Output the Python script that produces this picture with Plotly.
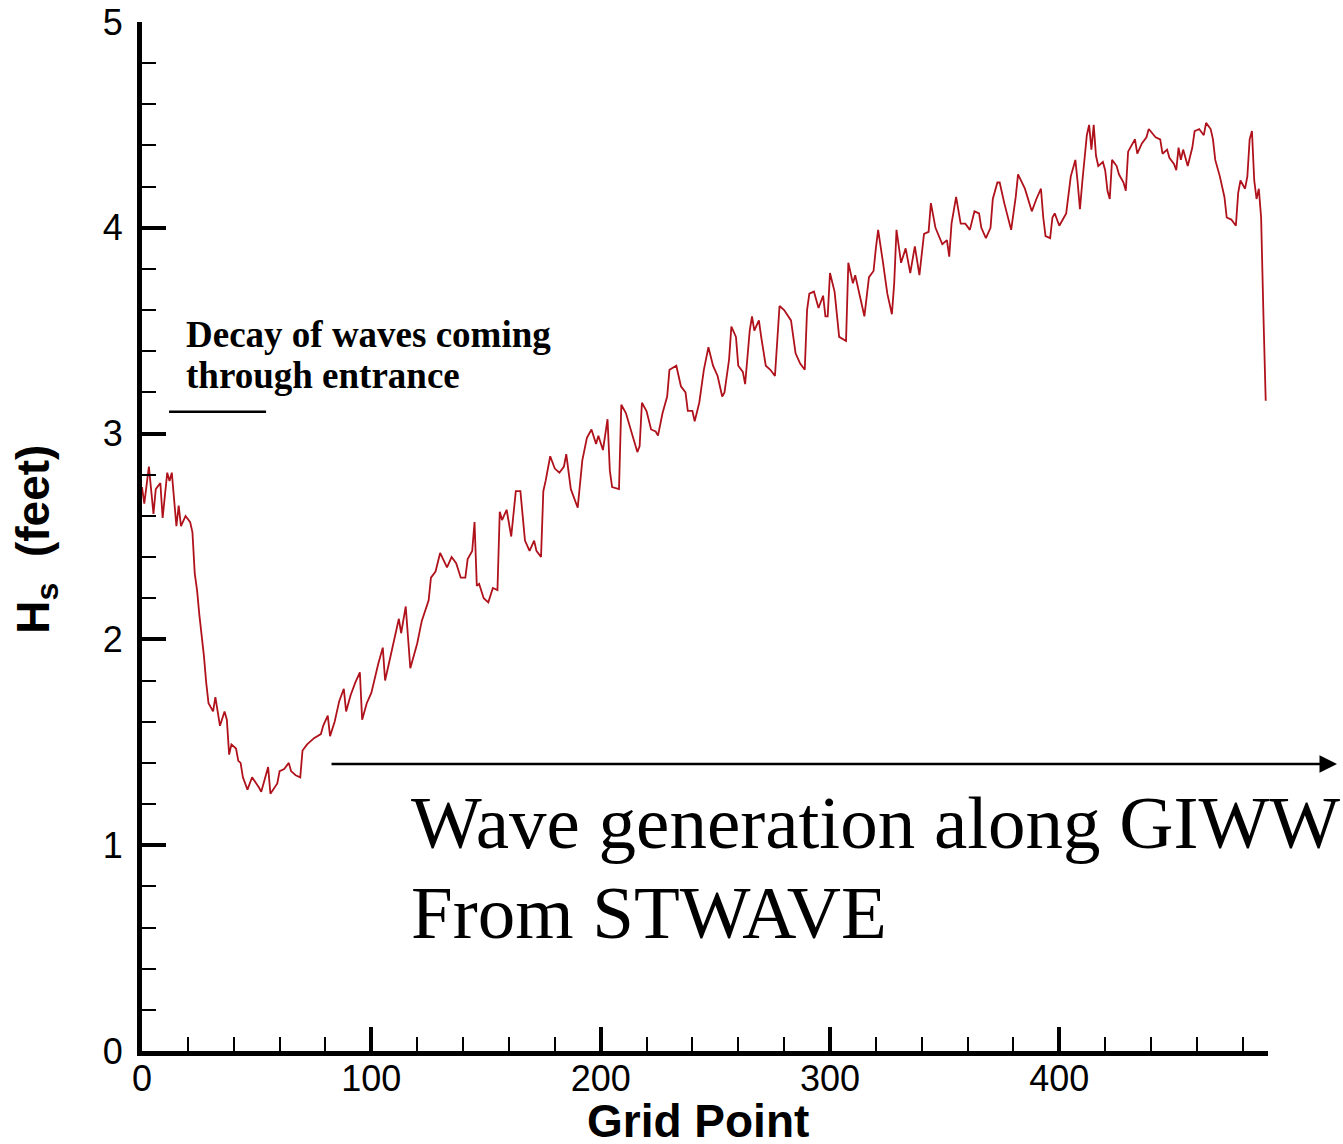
import plotly.graph_objects as go

# Significant wave height along the GIWW grid transect
grid_point = [
    0, 1, 3, 5, 6, 8, 9, 11, 12, 13, 15, 16, 17, 19, 21, 22, 23, 24, 25, 26,
    27, 28, 29, 31, 32, 34, 36, 37, 38, 39, 41, 42, 43, 44, 46, 48, 50, 51, 52, 54,
    55, 56, 59, 60, 62, 64, 65, 67, 69, 70, 72, 75, 78, 79, 81, 82, 84, 86, 88, 89,
    91, 93, 95, 96, 98, 100, 101, 103, 105, 106, 109, 111, 112, 113, 115, 117, 120, 122, 125, 126,
    128, 130, 133, 135, 137, 139, 141, 142, 144, 145, 146, 147, 149, 151, 153, 155, 156, 157, 159, 161,
    163, 165, 167, 169, 171, 172, 174, 175, 176, 178, 180, 182, 184, 185, 187, 190, 192, 194, 196, 198,
    199, 201, 203, 204, 205, 208, 209, 211, 213, 216, 217, 218, 220, 222, 224, 225, 227, 229, 230, 233,
    235, 237, 238, 240, 241, 243, 245, 247, 249, 251, 253, 254, 256, 257, 259, 260, 262, 263, 265, 266,
    267, 269, 270, 272, 274, 276, 278, 280, 283, 285, 287, 289, 290, 291, 293, 295, 297, 298, 299, 300,
    302, 304, 307, 308, 310, 311, 313, 315, 317, 319, 320, 321, 323, 325, 327, 328, 329, 331, 333, 335,
    337, 338, 339, 341, 343, 344, 346, 349, 351, 352, 353, 355, 357, 359, 361, 363, 365, 366, 368, 370,
    371, 373, 374, 376, 379, 381, 382, 385, 388, 390, 392, 393, 394, 396, 397, 398, 400, 402, 403, 405,
    407, 408, 409, 410, 412, 413, 414, 415, 416, 417, 419, 420, 421, 422, 423, 425, 426, 428, 429, 430,
    431, 433, 434, 436, 438, 439, 442, 444, 445, 447, 448, 450, 451, 452, 453, 454, 456, 458, 459, 461,
    463, 464, 466, 467, 468, 470, 472, 473, 475, 477, 478, 479, 481, 482, 483, 484, 485, 486, 487, 488,
    489, 490,
]
hs_feet = [
    2.74, 2.66, 2.84, 2.61, 2.73, 2.76, 2.59, 2.81, 2.77, 2.81, 2.55, 2.65, 2.55, 2.60, 2.57, 2.52, 2.32, 2.24, 2.12, 2.03,
    1.92, 1.79, 1.69, 1.65, 1.72, 1.58, 1.65, 1.61, 1.44, 1.49, 1.47, 1.41, 1.40, 1.33, 1.27, 1.33, 1.30, 1.28, 1.26, 1.34,
    1.38, 1.25, 1.30, 1.36, 1.37, 1.40, 1.36, 1.34, 1.33, 1.46, 1.49, 1.52, 1.54, 1.58, 1.63, 1.53, 1.60, 1.70, 1.76, 1.65,
    1.73, 1.79, 1.84, 1.61, 1.69, 1.74, 1.79, 1.88, 1.96, 1.80, 1.95, 2.05, 2.10, 2.03, 2.16, 1.86, 1.98, 2.09, 2.19, 2.30,
    2.33, 2.42, 2.35, 2.40, 2.37, 2.30, 2.30, 2.39, 2.43, 2.57, 2.26, 2.27, 2.20, 2.18, 2.25, 2.24, 2.62, 2.58, 2.63, 2.50,
    2.72, 2.72, 2.48, 2.43, 2.48, 2.43, 2.40, 2.72, 2.77, 2.89, 2.83, 2.81, 2.84, 2.90, 2.73, 2.64, 2.87, 2.98, 3.02, 2.95,
    2.99, 2.92, 3.07, 2.82, 2.74, 2.73, 3.14, 3.10, 3.02, 2.91, 2.94, 3.15, 3.11, 3.02, 3.01, 2.99, 3.10, 3.18, 3.31, 3.33,
    3.23, 3.20, 3.11, 3.11, 3.06, 3.15, 3.31, 3.42, 3.33, 3.28, 3.18, 3.20, 3.36, 3.52, 3.47, 3.33, 3.30, 3.24, 3.50, 3.57,
    3.50, 3.55, 3.47, 3.33, 3.31, 3.28, 3.62, 3.60, 3.55, 3.39, 3.34, 3.31, 3.60, 3.68, 3.69, 3.61, 3.67, 3.57, 3.57, 3.78,
    3.69, 3.47, 3.45, 3.83, 3.73, 3.77, 3.67, 3.57, 3.76, 3.79, 3.90, 3.99, 3.84, 3.68, 3.58, 3.73, 3.99, 3.83, 3.90, 3.78,
    3.91, 3.84, 3.77, 3.97, 3.98, 4.12, 4.00, 3.92, 3.94, 3.86, 4.02, 4.15, 4.02, 4.02, 3.99, 4.08, 4.07, 4.00, 3.95, 4.00,
    4.14, 4.22, 4.22, 4.12, 3.99, 4.15, 4.26, 4.19, 4.08, 4.14, 4.19, 4.05, 3.96, 3.95, 4.05, 4.07, 4.01, 4.05, 4.07, 4.25,
    4.33, 4.22, 4.09, 4.22, 4.45, 4.50, 4.38, 4.50, 4.35, 4.30, 4.32, 4.28, 4.18, 4.14, 4.33, 4.30, 4.26, 4.22, 4.18, 4.37,
    4.39, 4.43, 4.36, 4.41, 4.44, 4.48, 4.44, 4.43, 4.36, 4.38, 4.34, 4.31, 4.28, 4.39, 4.33, 4.38, 4.30, 4.39, 4.47, 4.48,
    4.45, 4.51, 4.48, 4.43, 4.33, 4.25, 4.15, 4.05, 4.04, 4.01, 4.17, 4.23, 4.19, 4.25, 4.43, 4.47, 4.23, 4.14, 4.19, 4.05,
    3.58, 3.16,
]

x_major_ticks = [0, 100, 200, 300, 400]
y_major_ticks = [0, 1, 2, 3, 4, 5]

SANS = "Liberation Sans, Arial, sans-serif"
SERIF = "Liberation Serif, Times New Roman, serif"

fig = go.Figure(
    go.Scatter(
        x=grid_point,
        y=hs_feet,
        mode="lines",
        line=dict(color="#b0121c", width=1.8),
        showlegend=False,
        hoverinfo="skip",
    )
)

axis_style = dict(
    showline=True,
    linecolor="black",
    linewidth=5,
    ticks="inside",
    tickcolor="black",
    tickwidth=4,
    ticklen=24,
    showgrid=False,
    zeroline=False,
    automargin=False,
    tickfont=dict(family=SANS, size=36, color="black"),
)

fig.update_xaxes(
    range=[0, 491],
    tickmode="array",
    tickvals=x_major_ticks,
    ticktext=[str(v) for v in x_major_ticks],
    ticklabelstandoff=-8,
    minor=dict(ticks="inside", ticklen=14, tickwidth=2, tickcolor="black", tick0=0, dtick=20),
    **axis_style,
)
fig.update_yaxes(
    range=[0, 5],
    tickmode="array",
    tickvals=y_major_ticks,
    ticktext=[str(v) for v in y_major_ticks],
    ticklabelstandoff=7,
    minor=dict(ticks="inside", ticklen=14, tickwidth=2, tickcolor="black", tick0=0, dtick=0.2),
    **axis_style,
)

annotations = [
    # axis titles
    dict(
        text="Grid Point",
        xref="paper", yref="paper", x=0.494, y=-0.068,
        xanchor="center", yanchor="middle", showarrow=False,
        font=dict(family=SANS, size=46, color="black", weight="bold"),
    ),
    dict(
        text="H<sub>s</sub>\u00a0\u00a0(feet)",
        xref="paper", yref="paper", x=-0.094, y=0.497,
        xanchor="center", yanchor="middle", showarrow=False, textangle=-90,
        font=dict(family=SANS, size=46, color="black", weight="bold"),
    ),
    # notes on the plot
    dict(
        text="Decay of waves coming",
        xref="x", yref="y", x=18.5, y=3.48,
        xanchor="left", yanchor="middle", showarrow=False,
        font=dict(family=SERIF, size=37, color="black", weight="bold"),
    ),
    dict(
        text="through entrance",
        xref="x", yref="y", x=18.5, y=3.28,
        xanchor="left", yanchor="middle", showarrow=False,
        font=dict(family=SERIF, size=37, color="black", weight="bold"),
    ),
    dict(
        text="Wave generation along GIWW",
        xref="x", yref="y", x=116.3, y=1.112,
        xanchor="left", yanchor="middle", showarrow=False,
        font=dict(family=SERIF, size=75, color="black"),
    ),
    dict(
        text="From STWAVE",
        xref="x", yref="y", x=116.3, y=0.672,
        xanchor="left", yanchor="middle", showarrow=False,
        font=dict(family=SERIF, size=75, color="black"),
    ),
    # long arrow pointing along the channel
    dict(
        text="",
        xref="paper", yref="paper", x=1.0613, y=0.2789,
        axref="pixel", ayref="pixel", ax=-1007, ay=0,
        showarrow=True, arrowhead=2, arrowsize=1.4, arrowwidth=2.5,
        arrowcolor="black", standoff=0, startstandoff=0,
    ),
]

fig.add_shape(
    type="line", xref="x", yref="y",
    x0=11.8, x1=54.1, y0=3.106, y1=3.106,
    line=dict(color="black", width=2.5),
)

fig.update_layout(
    width=1343,
    height=1144,
    margin=dict(l=142, r=75, t=22, b=93, pad=0),
    paper_bgcolor="white",
    plot_bgcolor="white",
    annotations=annotations,
    showlegend=False,
)

fig.write_html("out.html")
